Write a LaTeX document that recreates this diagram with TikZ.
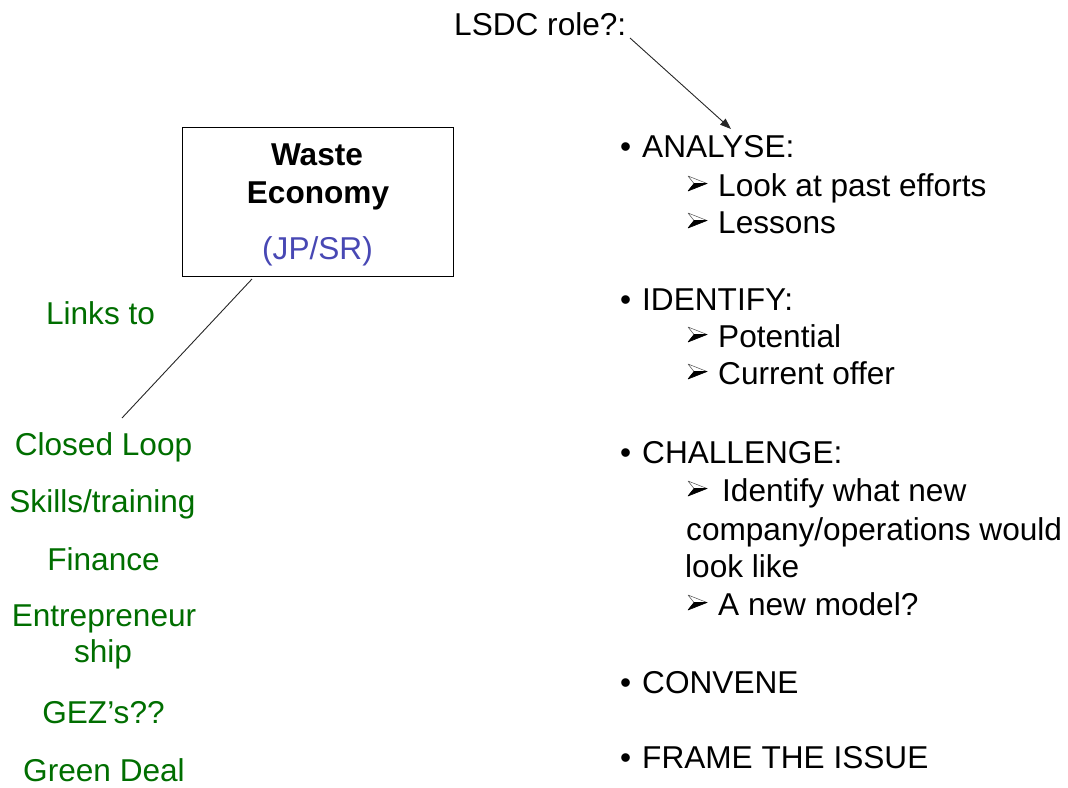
\documentclass[tikz,border=0pt]{standalone}
\usepackage{fontspec}
\setmainfont{Liberation Sans}
\usetikzlibrary{arrows.meta}
\definecolor{lgreen}{RGB}{0,110,0}
\definecolor{jpblue}{RGB}{72,72,180}
\begin{document}
\begin{tikzpicture}[x=1pt,y=-1pt,
  txt/.style={inner sep=0pt, font=\fontsize{31.6}{38}\selectfont},
  item/.style={txt, anchor=base west},
  bul/.style={txt, anchor=base west},
  green/.style={txt, anchor=base, text=lgreen},
  conn/.style={draw=black!85, line width=0.9pt},
  ahead/.pic={
    \draw[black!70, line width=0.5pt, line join=round] (0,-20) -- (19,-12.5) -- (6,-12.5) -- cycle;
    \fill[black, line join=round] (6,-12.5) -- (19,-12.5) -- (0,-5) -- cycle;
    \draw[black, line width=0.6pt, line join=round] (6,-12.5) -- (19,-12.5) -- (0,-5) -- cycle;
  }]
\useasboundingbox (0,0) rectangle (1068,787);

% title
\node[item] (lsdc) at (454,35) {LSDC role?:};
\coordinate (arrS) at (630,38);
\coordinate (arrE) at (731,129);
\draw[conn, -{Triangle[length=11pt,width=8pt]}] (arrS) -- (arrE);

% box
\node[draw, line width=0.9pt, minimum width=271pt, minimum height=149pt, inner sep=0pt] (box) at (317.5,201.5) {};
\node[txt, anchor=base, font=\fontsize{31.6}{38}\selectfont\bfseries] (waste) at (317,165) {Waste};
\node[txt, anchor=base, font=\fontsize{31.6}{38}\selectfont\bfseries] (econ) at (318,203) {Economy};
\node[txt, anchor=base, text=jpblue] (jpsr) at (317.5,259) {(JP/SR)};

% link line
\coordinate (lkA) at (252,279);
\coordinate (lkB) at (122,418);
\draw[conn] (lkA) -- (lkB);

% green list
\node[green] (links) at (100.5,324) {Links to};
\node[green] (closed) at (103.5,455) {Closed Loop};
\node[green] (skills) at (102.5,512) {Skills/training};
\node[green] (finance) at (103.5,570) {Finance};
\node[green] (entre) at (104,626) {Entrepreneur};
\node[green] (ship) at (103,662) {ship};
\node[green] (gez) at (103.5,723) {GEZ’s??};
\node[green] (gdeal) at (104,781) {Green Deal};

% right list
\node[bul] (b1) at (620,157) {•};
\node[item] (analyse) at (642,157) {ANALYSE:};
\pic at (688,196) {ahead};
\node[item] (look) at (718,196) {Look at past efforts};
\pic at (688,233) {ahead};
\node[item] (lessons) at (718,233) {Lessons};

\node[bul] (b2) at (620,310) {•};
\node[item] (identify) at (642,310) {IDENTIFY:};
\pic at (688,347) {ahead};
\node[item] (potential) at (718,347) {Potential};
\pic at (688,384) {ahead};
\node[item] (current) at (718,384) {Current offer};

\node[bul] (b3) at (620,463) {•};
\node[item] (challenge) at (642,463) {CHALLENGE:};
\pic at (688,501) {ahead};
\node[item] (identw) at (722,501) {Identify what new};
\node[item] (company) at (686,540) {company/operations would};
\node[item] (looklike) at (685,577) {look like};
\pic at (688,615) {ahead};
\node[item] (model) at (718,615) {A new model?};

\node[bul] (b4) at (620,693) {•};
\node[item] (convene) at (642,693) {CONVENE};
\node[bul] (b5) at (620,768) {•};
\node[item] (frame) at (642,768) {FRAME THE ISSUE};
\end{tikzpicture}
\end{document}
